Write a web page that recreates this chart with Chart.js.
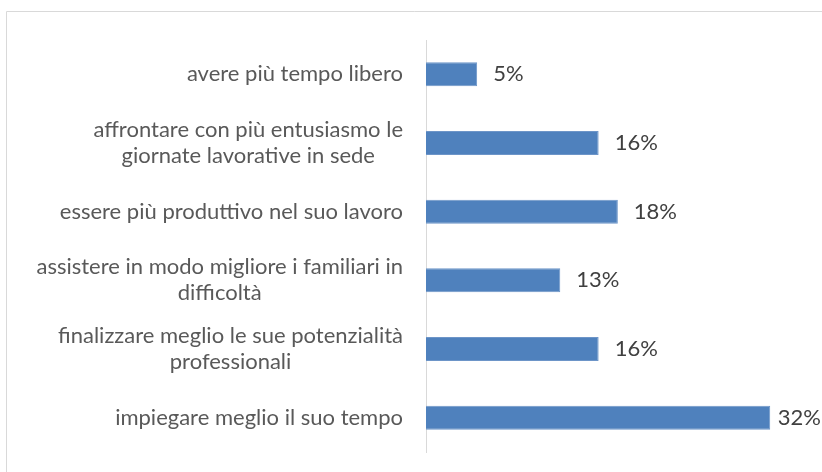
<!DOCTYPE html>
<html lang="it">
<head>
  <meta charset="UTF-8">
  <title>Benefici percepiti</title>
  <script src="https://cdn.jsdelivr.net/npm/chart.js"></script>
  <style>
    body {
      margin: 0;
      background: #fff;
    }
    #wrap {
      width: 822px;
      height: 472px;
      position: relative;
    }
  </style>
</head>
<body>
  <div id="wrap">
    <canvas id="chart"></canvas>
  </div>

  <script>
    // categorie, dall'alto verso il basso (una riga per elemento)
    const categories = [
      ["avere più tempo libero"],
      ["affrontare con più entusiasmo le", "giornate lavorative in sede"],
      ["essere più produttivo nel suo lavoro"],
      ["assistere in modo migliore i familiari in", "difficoltà"],
      ["finalizzare meglio le sue potenzialità", "professionali"],
      ["impiegare meglio il suo tempo"]
    ];
    // percentuali stimate dalla lunghezza delle barre
    const values = [4.8, 16.2, 18.0, 12.6, 16.2, 32.3];

    const FONT = "Lato, 'Open Sans', sans-serif";

    // cornice grigia (solo lato alto e sinistro visibili)
    const framePlugin = {
      id: 'frame',
      beforeDraw(chart) {
        const ctx = chart.ctx;
        ctx.save();
        ctx.strokeStyle = '#d9d9d9';
        ctx.lineWidth = 1;
        ctx.beginPath();
        ctx.moveTo(6.5, chart.height);
        ctx.lineTo(6.5, 11.5);
        ctx.lineTo(chart.width, 11.5);
        ctx.stroke();
        ctx.restore();
      }
    };

    // etichette di categoria: blocco allineato a destra, righe centrate
    const catLabels = {
      id: 'catLabels',
      afterDraw(chart) {
        const ctx = chart.ctx;
        const scale = chart.scales.y;
        const rightEdge = scale.right - 23;
        const lineH = 26;
        ctx.save();
        ctx.font = '22px ' + FONT;
        ctx.fillStyle = '#595959';
        ctx.textAlign = 'center';
        ctx.textBaseline = 'middle';
        categories.forEach((lines, i) => {
          const y = scale.getPixelForValue(i);
          const w = Math.max(...lines.map(l => ctx.measureText(l).width));
          const cx = rightEdge - w / 2;
          lines.forEach((l, j) => {
            ctx.fillText(l, cx, y + (j - (lines.length - 1) / 2) * lineH);
          });
        });
        ctx.restore();
      }
    };

    // etichette dei valori a destra delle barre
    const valueLabels = {
      id: 'valueLabels',
      afterDatasetsDraw(chart) {
        const ctx = chart.ctx;
        const meta = chart.getDatasetMeta(0);
        ctx.save();
        ctx.font = '22px ' + FONT;
        ctx.fillStyle = '#404040';
        ctx.textAlign = 'left';
        ctx.textBaseline = 'middle';
        meta.data.forEach((bar, i) => {
          const txt = Math.round(values[i]) + '%';
          const w = ctx.measureText(txt).width;
          const x = Math.min(bar.x + 16, chart.width - w - 1);
          ctx.fillText(txt, x, bar.y);
        });
        ctx.restore();
      }
    };

    new Chart(document.getElementById('chart'), {
      type: 'bar',
      data: {
        labels: categories,
        datasets: [{
          data: values,
          backgroundColor: '#4f81bd',
          borderColor: '#6d95c8',
          borderWidth: 1,
          barPercentage: 0.35,
          categoryPercentage: 1
        }]
      },
      options: {
        indexAxis: 'y',
        responsive: true,
        maintainAspectRatio: false,
        animation: false,
        layout: {
          padding: { top: 40, bottom: 20, left: 0, right: 23 }
        },
        plugins: {
          legend: { display: false },
          tooltip: { enabled: false }
        },
        scales: {
          x: {
            display: false,
            min: 0,
            max: 35
          },
          y: {
            grid: { display: false },
            border: { display: true, color: '#d9d9d9', width: 1 },
            ticks: { display: false },
            afterFit(scale) {
              scale.width = 426;
            }
          }
        }
      },
      plugins: [framePlugin, catLabels, valueLabels]
    });
  </script>
</body>
</html>
